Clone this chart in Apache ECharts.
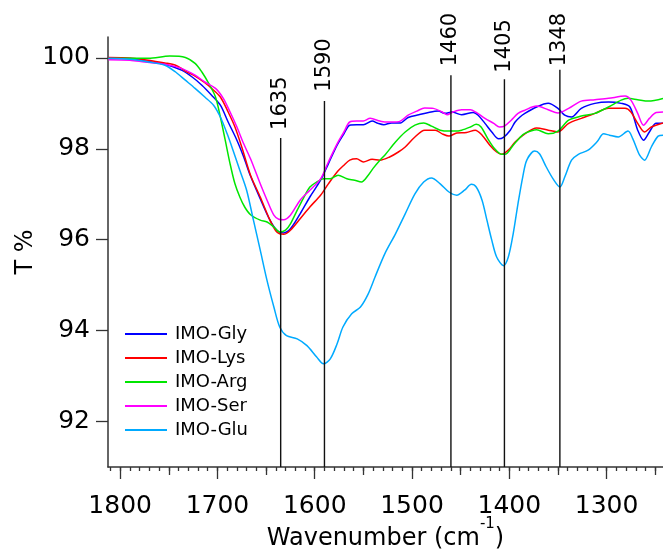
<!DOCTYPE html>
<html>
<head>
<meta charset="utf-8">
<script src="https://cdn.jsdelivr.net/npm/echarts@6/dist/echarts.min.js"></script>
<style>
  html, body { margin: 0; padding: 0; background: #ffffff; }
  #chart { width: 663px; height: 549px; }
</style>
</head>
<body>
<div id="chart"></div>
<script>
// FTIR transmittance spectra of the IMO samples
const seriesNames = ['IMO-Gly', 'IMO-Lys', 'IMO-Arg', 'IMO-Ser', 'IMO-Glu'];
const seriesColors = ['#0000ff', '#ff0000', '#00e600', '#ff00ff', '#00aaff'];

const glyWn = [1812, 1800, 1790, 1775, 1754, 1737, 1726, 1716, 1706, 1697, 1689, 1680, 1673, 1666, 1656, 1646, 1639, 1632, 1625, 1615, 1605, 1594, 1586, 1577, 1570, 1564, 1557, 1550, 1541, 1535, 1529, 1521, 1512, 1504, 1493, 1483, 1473, 1466, 1459, 1449, 1437, 1432, 1425, 1418, 1411, 1406, 1399, 1394, 1389, 1384, 1372, 1360, 1350, 1343, 1336, 1326, 1312, 1298, 1285, 1276, 1268, 1262, 1256, 1249, 1242];
const glyT  = [99.99, 99.99, 99.98, 99.93, 99.86, 99.73, 99.58, 99.40, 99.18, 98.96, 98.59, 98.19, 97.82, 97.40, 96.90, 96.43, 96.21, 96.15, 96.24, 96.57, 96.94, 97.31, 97.67, 98.08, 98.33, 98.52, 98.53, 98.53, 98.61, 98.56, 98.53, 98.57, 98.57, 98.69, 98.75, 98.80, 98.83, 98.78, 98.81, 98.75, 98.80, 98.74, 98.56, 98.37, 98.22, 98.25, 98.41, 98.59, 98.70, 98.78, 98.92, 99.00, 98.89, 98.74, 98.70, 98.89, 99.00, 99.03, 99.00, 98.92, 98.41, 98.19, 98.37, 98.56, 98.56];

const lysWn = [1812, 1790, 1775, 1754, 1743, 1733, 1723, 1714, 1706, 1697, 1689, 1682, 1675, 1666, 1656, 1646, 1639, 1632, 1625, 1615, 1605, 1594, 1586, 1577, 1570, 1564, 1557, 1550, 1541, 1533, 1523, 1514, 1507, 1497, 1487, 1476, 1469, 1462, 1454, 1444, 1435, 1428, 1420, 1413, 1408, 1401, 1394, 1384, 1372, 1360, 1350, 1339, 1326, 1312, 1298, 1281, 1275, 1268, 1261, 1254, 1242];
const lysT  = [100.01, 100.00, 99.96, 99.89, 99.84, 99.71, 99.60, 99.47, 99.33, 99.14, 98.81, 98.48, 98.04, 97.42, 96.94, 96.43, 96.17, 96.12, 96.21, 96.46, 96.72, 96.98, 97.23, 97.49, 97.64, 97.75, 97.78, 97.71, 97.77, 97.75, 97.82, 97.93, 98.04, 98.26, 98.41, 98.41, 98.33, 98.28, 98.35, 98.36, 98.41, 98.30, 98.08, 97.93, 97.88, 97.97, 98.15, 98.33, 98.46, 98.41, 98.37, 98.56, 98.67, 98.78, 98.89, 98.89, 98.81, 98.56, 98.37, 98.48, 98.57];

const argWn = [1812, 1790, 1771, 1749, 1733, 1723, 1716, 1709, 1702, 1697, 1692, 1687, 1682, 1677, 1672, 1666, 1656, 1649, 1642, 1636, 1630, 1625, 1618, 1612, 1605, 1598, 1591, 1584, 1576, 1567, 1559, 1552, 1545, 1540, 1533, 1528, 1517, 1507, 1497, 1488, 1480, 1471, 1462, 1456, 1449, 1440, 1434, 1429, 1422, 1415, 1408, 1403, 1396, 1389, 1384, 1372, 1360, 1350, 1339, 1326, 1312, 1298, 1285, 1278, 1268, 1257, 1242];
const argT  = [99.98, 99.99, 99.99, 100.04, 100.01, 99.88, 99.69, 99.44, 99.14, 98.70, 98.19, 97.67, 97.23, 96.94, 96.72, 96.55, 96.43, 96.39, 96.28, 96.17, 96.21, 96.35, 96.65, 96.90, 97.16, 97.27, 97.34, 97.34, 97.42, 97.34, 97.31, 97.27, 97.42, 97.57, 97.75, 97.86, 98.15, 98.37, 98.52, 98.57, 98.50, 98.41, 98.39, 98.39, 98.41, 98.48, 98.54, 98.48, 98.22, 98.00, 97.88, 97.89, 98.08, 98.25, 98.34, 98.42, 98.33, 98.39, 98.63, 98.72, 98.78, 98.92, 99.07, 99.11, 99.08, 99.05, 99.11];

const serWn = [1812, 1790, 1775, 1754, 1737, 1723, 1713, 1702, 1694, 1687, 1680, 1673, 1666, 1656, 1649, 1642, 1637, 1632, 1625, 1615, 1605, 1594, 1586, 1577, 1570, 1564, 1557, 1550, 1543, 1533, 1528, 1521, 1512, 1504, 1495, 1487, 1478, 1469, 1464, 1458, 1449, 1440, 1434, 1425, 1416, 1410, 1405, 1398, 1391, 1384, 1372, 1360, 1350, 1339, 1326, 1312, 1298, 1281, 1275, 1268, 1262, 1256, 1249, 1242];
const serT  = [99.96, 99.95, 99.91, 99.86, 99.77, 99.62, 99.47, 99.33, 99.11, 98.81, 98.48, 98.11, 97.78, 97.23, 96.87, 96.54, 96.45, 96.44, 96.54, 96.87, 97.09, 97.34, 97.71, 98.11, 98.37, 98.59, 98.61, 98.61, 98.67, 98.61, 98.59, 98.59, 98.61, 98.74, 98.83, 98.90, 98.89, 98.81, 98.75, 98.81, 98.86, 98.86, 98.80, 98.67, 98.56, 98.48, 98.50, 98.63, 98.78, 98.85, 98.94, 98.86, 98.79, 98.89, 99.05, 99.08, 99.11, 99.16, 99.07, 98.78, 98.52, 98.67, 98.80, 98.81];

const gluWn = [1812, 1790, 1771, 1754, 1743, 1733, 1723, 1713, 1704, 1697, 1690, 1684, 1677, 1670, 1663, 1656, 1649, 1642, 1636, 1629, 1618, 1608, 1598, 1591, 1584, 1577, 1571, 1562, 1553, 1545, 1538, 1528, 1517, 1507, 1497, 1488, 1480, 1471, 1462, 1454, 1446, 1439, 1434, 1428, 1423, 1418, 1413, 1406, 1401, 1396, 1391, 1386, 1382, 1374, 1369, 1362, 1355, 1348, 1343, 1336, 1329, 1319, 1310, 1303, 1297, 1288, 1278, 1273, 1266, 1261, 1254, 1247, 1242];
const gluT  = [99.99, 99.97, 99.91, 99.84, 99.69, 99.51, 99.33, 99.14, 98.96, 98.70, 98.33, 97.97, 97.53, 97.09, 96.43, 95.77, 95.10, 94.52, 94.08, 93.89, 93.82, 93.67, 93.42, 93.27, 93.38, 93.71, 94.08, 94.37, 94.52, 94.81, 95.18, 95.69, 96.13, 96.57, 97.01, 97.27, 97.36, 97.23, 97.05, 96.98, 97.09, 97.22, 97.16, 96.87, 96.43, 95.99, 95.62, 95.43, 95.62, 96.13, 96.80, 97.40, 97.75, 97.95, 97.89, 97.60, 97.34, 97.16, 97.38, 97.75, 97.88, 97.97, 98.15, 98.33, 98.30, 98.26, 98.39, 98.22, 97.86, 97.75, 98.04, 98.28, 98.30];

// Marked band positions (cm-1) and the transmittance where each marker line ends
const peakWn   = [1635, 1590, 1460, 1405, 1348];
const peakTopT = [98.24, 99.05, 99.62, 99.53, 99.74];

// Axis ticks
const xMajorTicks = [1300, 1400, 1500, 1600, 1700, 1800];
const xMidTicks   = [1250, 1350, 1450, 1550, 1650, 1750];
const yTicks      = [92, 94, 96, 98, 100];

// Axis range
const X_MIN = 1242, X_MAX = 1812.5;
const Y_MIN = 91, Y_MAX = 100.46;

// Layout of the rotated band labels (transmittance at the label's base)
const peakLabelT = [98.46, 99.30, 99.86, 99.72, 99.86];

const xMinorTicks = [];
for (let w = 1250; w <= 1810; w += 10) xMinorTicks.push(w);

const FONT = '"DejaVu Sans", Verdana, sans-serif';
const AXIS_COLOR = '#333333';
const plain = v => String(v);

const wnSets = [glyWn, lysWn, argWn, serWn, gluWn];
const tSets  = [glyT, lysT, argT, serT, gluT];

const lineSeries = seriesNames.map((name, i) => ({
  name: name,
  type: 'line',
  data: wnSets[i].map((w, k) => [w, tSets[i][k]]),
  symbol: 'none',
  showSymbol: false,
  smooth: 0.3,
  clip: true,
  color: seriesColors[i],
  lineStyle: { width: 1.5, color: seriesColors[i] },
  z: 3
}));

const peakSeries = {
  type: 'custom',
  name: 'peaks',
  coordinateSystem: 'cartesian2d',
  clip: false,
  silent: true,
  z: 4,
  data: peakWn.map((w, i) => [w, peakTopT[i], peakLabelT[i]]),
  renderItem: function (params, api) {
    const w = api.value(0);
    const pBottom = api.coord([w, Y_MIN]);
    const pTop = api.coord([w, api.value(1)]);
    const pLab = api.coord([w, api.value(2)]);
    return {
      type: 'group',
      children: [
        {
          type: 'line',
          shape: { x1: pBottom[0], y1: pBottom[1], x2: pTop[0], y2: pTop[1] },
          style: { stroke: '#111111', lineWidth: 1.4 }
        },
        {
          type: 'text',
          x: pLab[0],
          y: pLab[1] + 2,
          rotation: Math.PI / 2,
          style: {
            text: String(w),
            fill: '#000000',
            font: '21px ' + FONT,
            align: 'left',
            verticalAlign: 'middle'
          }
        }
      ]
    };
  }
};

const xBase = {
  type: 'value',
  min: X_MIN,
  max: X_MAX,
  inverse: true,
  gridIndex: 0,
  position: 'bottom',
  splitLine: { show: false }
};

const option = {
  animation: false,
  backgroundColor: '#ffffff',
  grid: { left: 108, right: 0, top: 37, bottom: 82, containLabel: false, outerBoundsMode: 'none' },
  legend: {
    orient: 'vertical',
    left: 120,
    top: 320,
    itemWidth: 42,
    itemHeight: 20,
    itemGap: 6,
    data: seriesNames,
    icon: 'path://M0,9 L42,9 L42,11 L0,11 Z',
    textStyle: { fontFamily: FONT, fontSize: 18, color: '#000000', padding: [0, 0, 0, 3] }
  },
  xAxis: [
    Object.assign({}, xBase, {
      name: '{a|Wavenumber (cm}{s|-1}{a|)}',
      nameLocation: 'middle',
      nameGap: 50,
      nameMoveOverlap: false,
      nameTextStyle: {
        rich: {
          a: { fontFamily: FONT, fontSize: 24, color: '#000000', lineHeight: 34, verticalAlign: 'bottom' },
          s: { fontFamily: FONT, fontSize: 15, color: '#000000', lineHeight: 15, verticalAlign: 'top' }
        }
      },
      axisLine: { show: true, onZero: false, lineStyle: { color: AXIS_COLOR, width: 1.5 } },
      axisTick: { show: true, inside: false, length: 12, customValues: xMajorTicks, lineStyle: { color: AXIS_COLOR, width: 1.3 } },
      axisLabel: { show: true, customValues: xMajorTicks, formatter: plain, margin: 27, fontFamily: FONT, fontSize: 25, color: '#000000' }
    }),
    Object.assign({}, xBase, {
      axisLine: { show: false },
      axisTick: { show: true, length: 8, customValues: xMidTicks, lineStyle: { color: AXIS_COLOR, width: 1.3 } },
      axisLabel: { show: false }
    }),
    Object.assign({}, xBase, {
      axisLine: { show: false },
      axisTick: { show: true, length: 4, customValues: xMinorTicks, lineStyle: { color: AXIS_COLOR, width: 1.3 } },
      axisLabel: { show: false }
    })
  ],
  yAxis: {
    type: 'value',
    min: Y_MIN,
    max: Y_MAX,
    name: 'T %',
    nameLocation: 'middle',
    nameGap: 70,
    nameMoveOverlap: false,
    nameTextStyle: { fontFamily: FONT, fontSize: 24, color: '#000000' },
    splitLine: { show: false },
    axisLine: { show: true, onZero: false, lineStyle: { color: AXIS_COLOR, width: 1.5 } },
    axisTick: { show: true, length: 12, customValues: yTicks, lineStyle: { color: AXIS_COLOR, width: 1.3 } },
    axisLabel: { show: true, customValues: yTicks, formatter: plain, margin: 18, fontFamily: FONT, fontSize: 25, color: '#000000' }
  },
  series: lineSeries.concat([peakSeries])
};

const chart = echarts.init(document.getElementById('chart'), null, { renderer: 'canvas' });
chart.setOption(option);
</script>
</body>
</html>
